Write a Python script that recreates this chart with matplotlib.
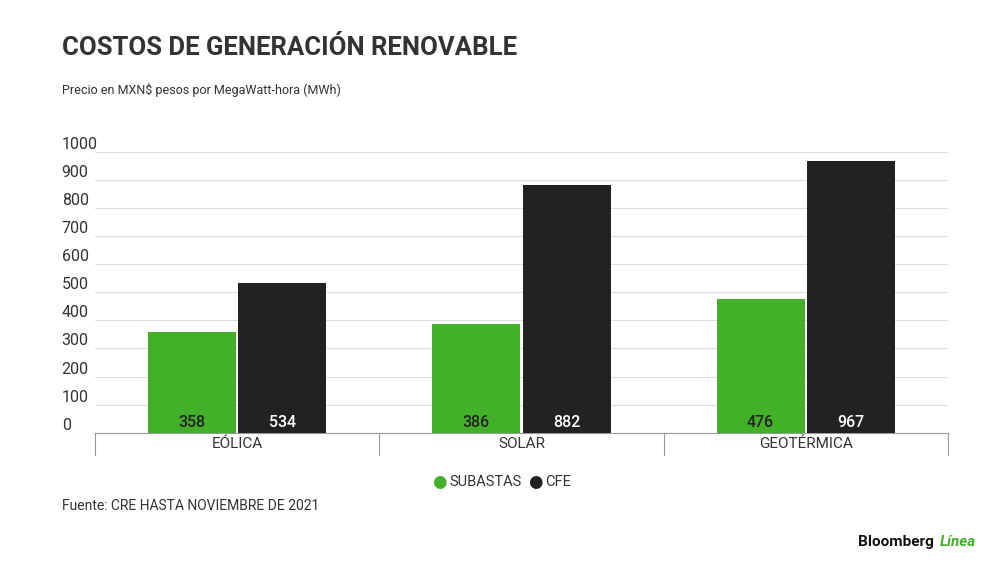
import matplotlib.pyplot as plt
import numpy as np

plt.rcParams['font.family'] = ['Roboto', 'DejaVu Sans']

categories = ['EÓLICA', 'SOLAR', 'GEOTÉRMICA']
subastas = [358, 386, 476]
cfe = [534, 882, 967]
yticks = [0, 100, 200, 300, 400, 500, 600, 700, 800, 900, 1000]

green = '#43b02a'
black = '#222222'

fig = plt.figure(figsize=(10, 5.62), dpi=100)
ax = fig.add_axes([0.095, 0.23, 0.853, 0.50])

x = np.arange(len(categories))
w = 0.31
gap = 0.004
b1 = ax.bar(x - w / 2 - gap, subastas, w, color=green, zorder=3)
b2 = ax.bar(x + w / 2 + gap, cfe, w, color=black, zorder=3)

for bars, vals in [(b1, subastas), (b2, cfe)]:
    for r, v in zip(bars, vals):
        ax.text(r.get_x() + r.get_width() / 2, 8, str(v), ha='center', va='bottom',
                color='white' if bars is b2 else '#222222', fontsize=11.5,
                fontweight='medium', zorder=4)

ax.set_xlim(-0.5, 2.5)
ax.set_ylim(0, 1000)
ax.set_yticks(yticks)
ax.set_yticklabels([])
ax.tick_params(axis='y', length=0)
for t in yticks:
    ax.text(-0.039, t + 0, str(t), transform=ax.get_yaxis_transform(),
            ha='left', va='bottom', fontsize=11.5, color='#333333')
ax.set_xticks([])
ax.grid(axis='y', color='#dddddd', linewidth=0.8, zorder=0)
for s in ['top', 'right', 'left']:
    ax.spines[s].set_visible(False)
ax.spines['bottom'].set_color('#999999')

for xs in [-0.5, 0.5, 1.5, 2.5]:
    ax.plot([xs, xs], [0, -80], color='#999999', lw=0.8, clip_on=False)
for i, c in enumerate(categories):
    ax.text(i, -40, c, ha='center', va='center', fontsize=11, color='#333333')

fig.text(0.062, 0.915, 'COSTOS DE GENERACIÓN RENOVABLE', fontsize=18.5, fontweight='bold', color='#333333', va='center')
fig.text(0.062, 0.84, 'Precio en MXN$ pesos por MegaWatt-hora (MWh)', fontsize=9, color='#333333', va='center')

fig.text(0.432, 0.142, '●', color=green, fontsize=12, va='center', ha='left')
fig.text(0.449, 0.142, 'SUBASTAS', color='#333333', fontsize=10.5, va='center')
fig.text(0.528, 0.142, '●', color=black, fontsize=12, va='center', ha='left')
fig.text(0.545, 0.142, 'CFE', color='#333333', fontsize=10.5, va='center')

fig.text(0.062, 0.1, 'Fuente: CRE HASTA NOVIEMBRE DE 2021', fontsize=10, color='#333333', va='center')
fig.text(0.858, 0.035, 'Bloomberg', fontsize=11, fontweight='bold', color='#111111', va='center')
fig.text(0.94, 0.035, 'Línea', fontsize=11, fontweight='bold', style='italic', color=green, va='center')

fig.savefig('out.png', dpi=100)
